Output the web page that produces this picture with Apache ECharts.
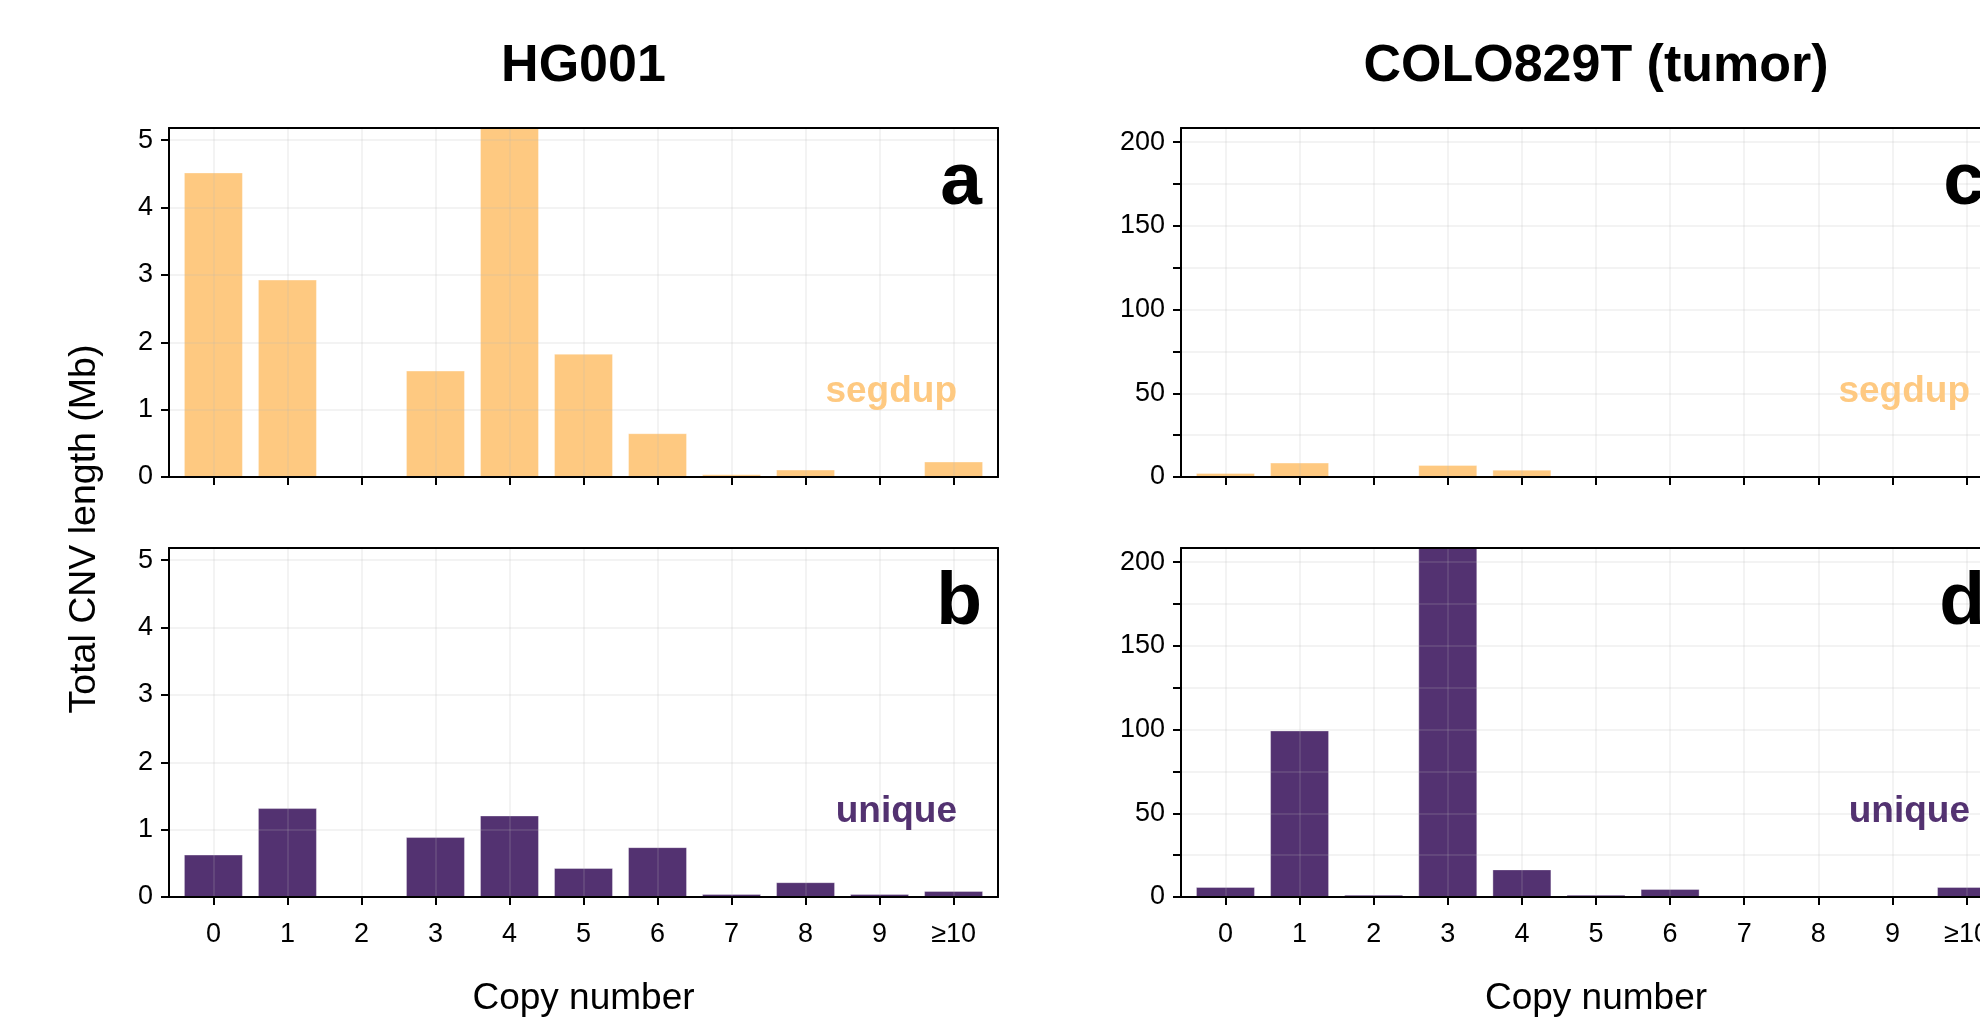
<!DOCTYPE html>
<html><head><meta charset="utf-8">
<script src="https://cdn.jsdelivr.net/npm/echarts@6/dist/echarts.min.js"></script>
<style>html,body{margin:0;padding:0;background:#fff}#c{width:1980px;height:1021px}</style>
</head><body><div id="c"></div>
<script>
// ---- data ----
const categories = ['0','1','2','3','4','5','6','7','8','9','≥10'];
const hg001Segdup = [4.52, 2.93, 0, 1.58, 5.18, 1.83, 0.65, 0.04, 0.11, 0.01, 0.23];
const hg001Unique = [0.63, 1.32, 0, 0.89, 1.21, 0.43, 0.74, 0.045, 0.22, 0.045, 0.09];
const coloSegdup  = [2.4, 8.6, 0, 7.2, 4.4, 0.6, 0, 0, 0, 0, 0.3];
const coloUnique  = [6.0, 99.5, 1.4, 208.5, 16.5, 1.4, 4.8, 0.8, 0.8, 0.8, 6.0];
const hgMax = 5.18;
const coloMax = 208.5;
const hgTicks = [0, 1, 2, 3, 4, 5];
const hgTickLabels = [0, 1, 2, 3, 4, 5];
const coloTicks = [0, 25, 50, 75, 100, 125, 150, 175, 200];
const coloTickLabels = [0, 50, 100, 150, 200];
const sampleTitles = ['HG001', 'COLO829T (tumor)'];
const panelLetters = ['a', 'b', 'c', 'd'];
const regionNames = ['segdup', 'unique'];
const xAxisTitle = 'Copy number';
const yAxisTitle = 'Total CNV length (Mb)';

// ---- style ----
const FONT = '"Liberation Sans", Arial, Helvetica, sans-serif';
const SEG = '#fec981';
const UNI = '#533271';
const GRIDLINE = 'rgba(185,185,185,0.22)';
const grids = [
  {left: 169, top: 128, width: 829, height: 349},
  {left: 169, top: 548, width: 829, height: 349},
  {left: 1181, top: 128, width: 830, height: 349},
  {left: 1181, top: 548, width: 830, height: 349}
];
const letterInset = [16, 16, 26, 26];
const panels = [
  {values: hg001Segdup, max: hgMax, ticks: hgTicks, labels: hgTickLabels, color: SEG, letter: panelLetters[0], tag: regionNames[0], bottom: false},
  {values: hg001Unique, max: hgMax, ticks: hgTicks, labels: hgTickLabels, color: UNI, letter: panelLetters[1], tag: regionNames[1], bottom: true},
  {values: coloSegdup, max: coloMax, ticks: coloTicks, labels: coloTickLabels, color: SEG, letter: panelLetters[2], tag: regionNames[0], bottom: false},
  {values: coloUnique, max: coloMax, ticks: coloTicks, labels: coloTickLabels, color: UNI, letter: panelLetters[3], tag: regionNames[1], bottom: true}
];
const catIdx = categories.map((_, i) => i);
const black = {color: '#000', width: 2};

const xAxes = [], yAxes = [], series = [], graphics = [];
panels.forEach((p, i) => {
  xAxes.push({
    gridIndex: i, type: 'value', min: -0.6, max: 10.6, z: 3,
    axisLine: {show: true, onZero: false, lineStyle: black},
    axisTick: {show: true, customValues: catIdx, length: 8, inside: false, lineStyle: black},
    axisLabel: {show: p.bottom, customValues: catIdx, formatter: v => categories[Math.round(v)],
      margin: 24, fontSize: 27, color: '#000', fontFamily: FONT},
    splitLine: {show: true, lineStyle: {color: GRIDLINE, width: 1.5}}
  });
  yAxes.push({
    gridIndex: i, type: 'value', min: 0, max: p.max, z: 3,
    axisLine: {show: true, onZero: false, lineStyle: black},
    axisTick: {show: true, customValues: p.ticks, length: 8, inside: false, lineStyle: black},
    axisLabel: {show: true, customValues: p.labels, margin: 16, fontSize: 27, color: '#000', fontFamily: FONT},
    splitLine: {show: true, lineStyle: {color: GRIDLINE, width: 1.5}}
  });
  series.push({
    type: 'bar', xAxisIndex: i, yAxisIndex: i, barWidth: 59,
    data: p.values.map((v, k) => [k, v]),
    itemStyle: {color: p.color, borderColor: 'rgba(255,255,255,0.35)', borderWidth: 1},
    silent: true, animation: false
  });
  const g = grids[i];
  graphics.push({type: 'text', x: g.left + g.width - letterInset[i], y: g.top + 55, z: 10,
    style: {text: p.letter, font: 'bold 75px ' + FONT, fill: '#000', align: 'right', verticalAlign: 'middle'}});
  graphics.push({type: 'text', x: g.left + g.width - 41, y: g.top + 264, z: 10,
    style: {text: p.tag, font: 'bold 37px ' + FONT, fill: p.color, align: 'right', verticalAlign: 'middle'}});
});
// top / right spines
panels.forEach((p, i) => {
  xAxes.push({gridIndex: i, type: 'value', position: 'top', min: -0.6, max: 10.6, z: 4,
    axisLine: {show: true, onZero: false, lineStyle: black}, axisTick: {show: false}, axisLabel: {show: false}, splitLine: {show: false}});
  yAxes.push({gridIndex: i, type: 'value', position: 'right', min: 0, max: p.max, z: 4,
    axisLine: {show: true, onZero: false, lineStyle: black}, axisTick: {show: false}, axisLabel: {show: false}, splitLine: {show: false}});
});
// axis titles
[grids[1], grids[3]].forEach(g => {
  graphics.push({type: 'text', x: g.left + g.width / 2, y: 999,
    style: {text: xAxisTitle, font: '37px ' + FONT, fill: '#000', align: 'center', verticalAlign: 'middle'}});
});
graphics.push({type: 'text', x: 85, y: 529, rotation: Math.PI / 2,
  style: {text: yAxisTitle, font: '37.5px ' + FONT, fill: '#000', align: 'center', verticalAlign: 'middle'}});

const chart = echarts.init(document.getElementById('c'), null, {renderer: 'canvas'});
chart.setOption({
  animation: false,
  backgroundColor: '#fff',
  title: sampleTitles.map((t, i) => ({
    text: t, left: grids[i * 2].left + grids[i * 2].width / 2, top: 67, padding: 0,
    textAlign: 'center', textVerticalAlign: 'middle',
    textStyle: {fontSize: 52, fontWeight: 'bold', color: '#000', fontFamily: FONT}
  })),
  grid: grids.map(g => Object.assign({containLabel: false, outerBoundsMode: 'none', show: false}, g)),
  xAxis: xAxes,
  yAxis: yAxes,
  series: series,
  graphic: graphics
});
</script>
</body></html>
